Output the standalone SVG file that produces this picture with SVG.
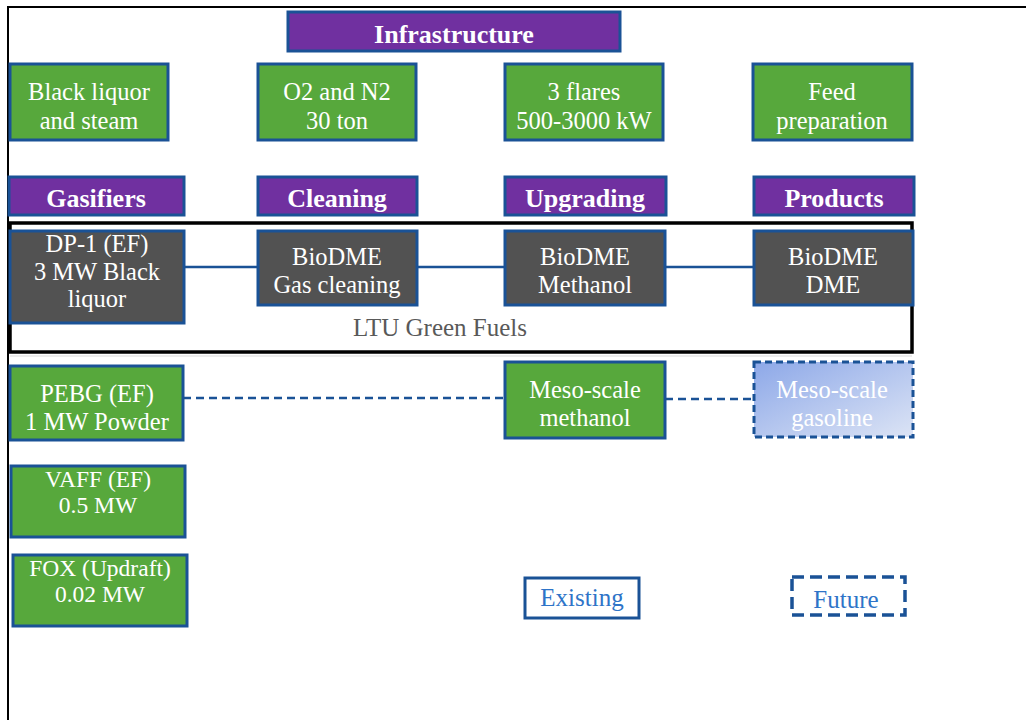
<svg xmlns="http://www.w3.org/2000/svg" width="1026" height="720" viewBox="0 0 1026 720">
<style>
.t{font-family:"Liberation Serif","Times New Roman",serif;font-size:24.5px;fill:#fff;text-anchor:middle}
.b{font-weight:bold;font-size:26px}
.s{font-size:23.5px}
.g{fill:#57A83C;stroke:#1A5296;stroke-width:3}
.p{fill:#7030A0;stroke:#1A5296;stroke-width:3}
.d{fill:#525252;stroke:#1A5296;stroke-width:3}
.c{fill:none;stroke:#1A5296;stroke-width:2.5}
.dash{stroke-dasharray:8 5}
</style>
<defs>
<linearGradient id="gr" x1="0" y1="0" x2="1" y2="1">
<stop offset="0" stop-color="#8DA8E8"/>
<stop offset="1" stop-color="#DCE4F5"/>
</linearGradient>
</defs>
<rect width="1026" height="720" fill="#fff"/>
<path d="M8,720 V7 H1026" fill="none" stroke="#000" stroke-width="2"/>
<line x1="10" y1="356" x2="912" y2="356" stroke="#e6e6e6" stroke-width="1.5"/>

<g id="connectors">
<line class="c" x1="184" y1="267" x2="257" y2="267"/>
<line class="c" x1="417" y1="267" x2="504" y2="267"/>
<line class="c" x1="665" y1="267" x2="753" y2="267"/>
<line class="c dash" x1="183" y1="398" x2="504" y2="398"/>
<line class="c dash" x1="665" y1="399" x2="753" y2="399"/>
</g>

<g id="infrastructure"><rect class="p" x="288" y="12" width="332" height="39"/><text class="t b" x="454" y="43">Infrastructure</text></g>

<g id="black-liquor"><rect class="g" x="10" y="64" width="158" height="76"/><text class="t" x="89" y="100">Black liquor</text><text class="t" x="89" y="129">and steam</text></g>
<g id="o2n2"><rect class="g" x="258" y="64" width="158" height="76"/><text class="t" x="337" y="100">O2 and N2</text><text class="t" x="337" y="129">30 ton</text></g>
<g id="flares"><rect class="g" x="505" y="64" width="158" height="76"/><text class="t" x="584" y="100">3 flares</text><text class="t" x="584" y="129">500-3000 kW</text></g>
<g id="feed"><rect class="g" x="753" y="64" width="159" height="76"/><text class="t" x="832" y="100">Feed</text><text class="t" x="832" y="129">preparation</text></g>

<g id="gasifiers"><rect class="p" x="9" y="177" width="175" height="38"/><text class="t b" x="96" y="207">Gasifiers</text></g>
<g id="cleaning"><rect class="p" x="258" y="177" width="159" height="38"/><text class="t b" x="337" y="207">Cleaning</text></g>
<g id="upgrading"><rect class="p" x="505" y="177" width="161" height="38"/><text class="t b" x="585" y="207">Upgrading</text></g>
<g id="products"><rect class="p" x="754" y="177" width="160" height="38"/><text class="t b" x="834" y="207">Products</text></g>

<g id="ltu"><rect x="10" y="223" width="902" height="129" fill="none" stroke="#000" stroke-width="3.5"/><text class="t" x="440" y="336" style="fill:#595959;font-size:25px">LTU Green Fuels</text></g>

<g id="dp1"><rect class="d" x="10" y="231" width="174" height="92"/><text class="t" x="97" y="252">DP-1 (EF)</text><text class="t" x="97" y="280">3 MW Black</text><text class="t" x="97" y="307">liquor</text></g>
<g id="gascleaning"><rect class="d" x="258" y="231" width="159" height="74"/><text class="t" x="337" y="265">BioDME</text><text class="t" x="337" y="293">Gas cleaning</text></g>
<g id="methanol"><rect class="d" x="505" y="231" width="160" height="74"/><text class="t" x="585" y="265">BioDME</text><text class="t" x="585" y="293">Methanol</text></g>
<g id="dme"><rect class="d" x="754" y="231" width="159" height="74"/><text class="t" x="833" y="265">BioDME</text><text class="t" x="833" y="293">DME</text></g>

<g id="pebg"><rect class="g" x="10" y="366" width="173" height="74"/><text class="t" x="97" y="402">PEBG (EF)</text><text class="t" x="97" y="430">1 MW Powder</text></g>
<g id="vaff"><rect class="g" x="11" y="466" width="174" height="71"/><text class="t s" x="98" y="487">VAFF (EF)</text><text class="t s" x="98" y="513">0.5 MW</text></g>
<g id="fox"><rect class="g" x="13" y="555" width="174" height="71"/><text class="t s" x="100" y="576">FOX (Updraft)</text><text class="t s" x="100" y="602">0.02 MW</text></g>

<g id="meso-methanol"><rect class="g" x="505" y="362" width="160" height="76"/><text class="t" x="585" y="398">Meso-scale</text><text class="t" x="585" y="426">methanol</text></g>
<g id="meso-gasoline"><rect x="754" y="362" width="159" height="75" fill="url(#gr)" stroke="#1A5296" stroke-width="3" stroke-dasharray="7 4"/><text class="t" x="832" y="398">Meso-scale</text><text class="t" x="832" y="426">gasoline</text></g>

<g id="existing"><rect x="525" y="578" width="114" height="40" fill="#fff" stroke="#1A5296" stroke-width="3"/><text class="t" x="582" y="606" style="fill:#2E74C8;font-size:25px">Existing</text></g>
<g id="future"><rect x="792" y="577" width="113" height="38" fill="#fff" stroke="#1A5296" stroke-width="3.5" stroke-dasharray="12 6"/><text class="t" x="846" y="608" style="fill:#2E74C8;font-size:25px">Future</text></g>
</svg>
